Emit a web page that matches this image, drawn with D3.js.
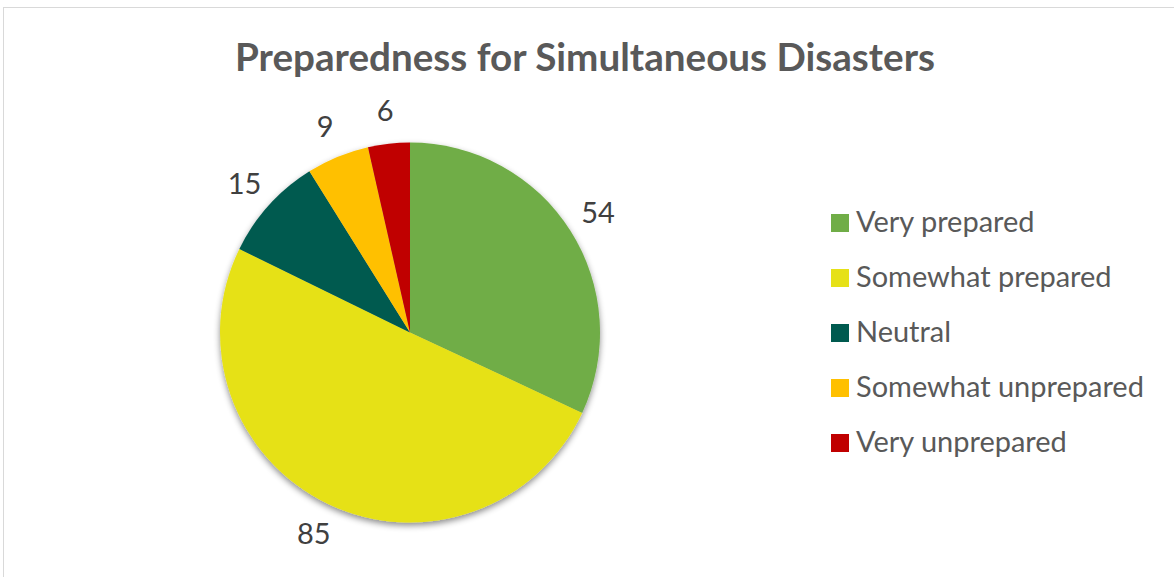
<!DOCTYPE html>
<html>
<head>
<meta charset="utf-8">
<script src="https://cdn.jsdelivr.net/npm/d3@7"></script>
<style>
  html, body { margin: 0; padding: 0; background: #fff; }
  svg { display: block; }
</style>
</head>
<body>
<svg id="chart" width="1174" height="577"></svg>
<script>
// Survey responses
const categories = ["Very prepared", "Somewhat prepared", "Neutral", "Somewhat unprepared", "Very unprepared"];
const counts = [54, 85, 15, 9, 6];
const colors = ["#70AD47", "#E6E117", "#005A4F", "#FFC000", "#C00000"];
const titleText = "Preparedness for Simultaneous Disasters";

const data = categories.map((c, i) => ({ category: c, value: counts[i] }));

const svg = d3.select("#chart");
const W = 1174, H = 577;
const FONT = "Lato, 'Open Sans', sans-serif";

// chart frame
svg.append("rect")
  .attr("x", 3.5).attr("y", 7.5)
  .attr("width", W + 10).attr("height", H + 10)
  .attr("fill", "#fff").attr("stroke", "#d9d9d9").attr("stroke-width", 1);

// soft drop shadow under the pie
const defs = svg.append("defs");
const f = defs.append("filter").attr("id", "pieShadow")
  .attr("x", "-10%").attr("y", "-10%").attr("width", "120%").attr("height", "125%");
f.append("feDropShadow").attr("dx", 0).attr("dy", 3).attr("stdDeviation", 3)
  .attr("flood-color", "#000").attr("flood-opacity", 0.45);

// shrink/grow a text's font size until it spans the given width
function fitWidth(sel, target, start) {
  sel.attr("font-size", start);
  const w = sel.node().getComputedTextLength();
  const size = start * target / w;
  sel.attr("font-size", size);
  return size;
}

// title
const title = svg.append("text")
  .attr("x", 585).attr("y", 71)
  .attr("text-anchor", "middle")
  .attr("font-family", FONT).attr("font-weight", 700)
  .attr("fill", "#595959")
  .text(titleText);
fitWidth(title, 700, 34);

// pie
const cx = 410, cy = 332.5, r = 190;
const pie = d3.pie().sort(null).value(d => d.value);
const arcs = pie(data);
const arc = d3.arc().innerRadius(0).outerRadius(r);
const color = d3.scaleOrdinal().domain(categories).range(colors);

const g = svg.append("g").attr("transform", `translate(${cx},${cy})`);
g.append("g").attr("filter", "url(#pieShadow)")
  .selectAll("path").data(arcs).join("path")
  .attr("d", arc)
  .attr("fill", d => color(d.data.category));

// legend
const legend = svg.append("g").attr("transform", "translate(831,214)");
const rows = legend.selectAll("g").data(categories).join("g")
  .attr("transform", (d, i) => `translate(0,${i * 55})`);
rows.append("rect").attr("width", 18).attr("height", 18)
  .attr("fill", d => color(d));
const legendTexts = rows.append("text")
  .attr("x", 25).attr("y", 18)
  .attr("font-family", FONT).attr("fill", "#595959")
  .text(d => d);
// size legend text from its longest entry
const longest = legendTexts.filter(d => d === "Somewhat unprepared");
const legendSize = fitWidth(longest, 288, 26);
legendTexts.attr("font-size", legendSize);

// data labels outside each slice
const labelArc = d3.arc().innerRadius(r + 33).outerRadius(r + 33);
g.selectAll("text.lbl").data(arcs).join("text")
  .attr("class", "lbl")
  .attr("transform", d => `translate(${labelArc.centroid(d)})`)
  .attr("text-anchor", "middle")
  .attr("dy", "0.36em")
  .attr("font-family", FONT).attr("font-size", legendSize)
  .attr("fill", "#404040")
  .text(d => d.data.value);
</script>
</body>
</html>
